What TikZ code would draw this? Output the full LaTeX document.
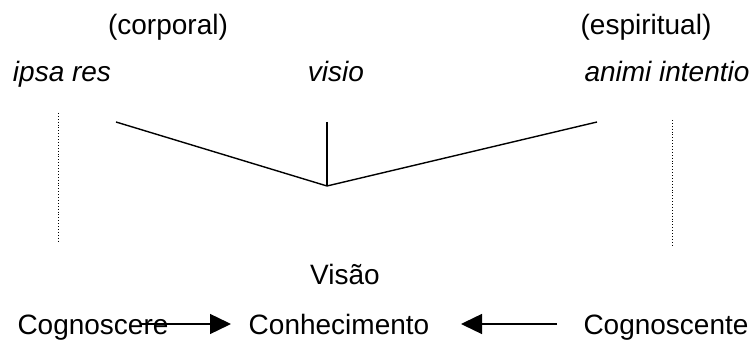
\documentclass[tikz,border=0pt]{standalone}
\usepackage{fontspec}
\setmainfont{Liberation Sans}
\usetikzlibrary{arrows.meta}
\begin{document}
\begin{tikzpicture}[x=1pt,y=-1pt,
  lbl/.style={inner sep=0pt,anchor=base,font=\fontsize{28}{32}\selectfont},
  ital/.style={lbl,font=\fontsize{28}{32}\selectfont\itshape},
  ln/.style={line width=1.4pt},
  dots/.style={line width=0.9pt,dotted},
  arr/.style={line width=1.4pt,-{Triangle[length=21pt,width=20pt]}}]
\useasboundingbox (0,0) rectangle (756,344);
\node[lbl] (corp) at (168,35) {(corporal)};
\node[lbl] (esp) at (646,35) {(espiritual)};
\node[ital] (ipsa) at (62,82) {ipsa res};
\node[ital] (visio) at (336,82) {visio};
\node[ital] (animi) at (667,82) {animi intentio};
\coordinate (L) at (116,122);
\coordinate (R) at (597,122);
\coordinate (T) at (327,122);
\coordinate (B) at (327,186);
\draw[ln] (L) -- (B) -- (R);
\draw[ln] (T) -- (B);
\coordinate (d1a) at (58,113);
\coordinate (d1b) at (58,242);
\coordinate (d2a) at (672,120);
\coordinate (d2b) at (672,245);
\draw[dots] (d1a) -- (d1b);
\draw[dots] (d2a) -- (d2b);
\node[lbl] (visao) at (345,285) {Visão};
\node[lbl] (cogre) at (93,335) {Cognoscere};
\node[lbl] (conh) at (339,335) {Conhecimento};
\node[lbl] (cogte) at (666,335) {Cognoscente};
\coordinate (a1s) at (140,324);
\coordinate (a1e) at (231,324);
\coordinate (a2s) at (557,324);
\coordinate (a2e) at (461,324);
\draw[arr] (a1s) -- (a1e);
\draw[arr] (a2s) -- (a2e);
\end{tikzpicture}
\end{document}
